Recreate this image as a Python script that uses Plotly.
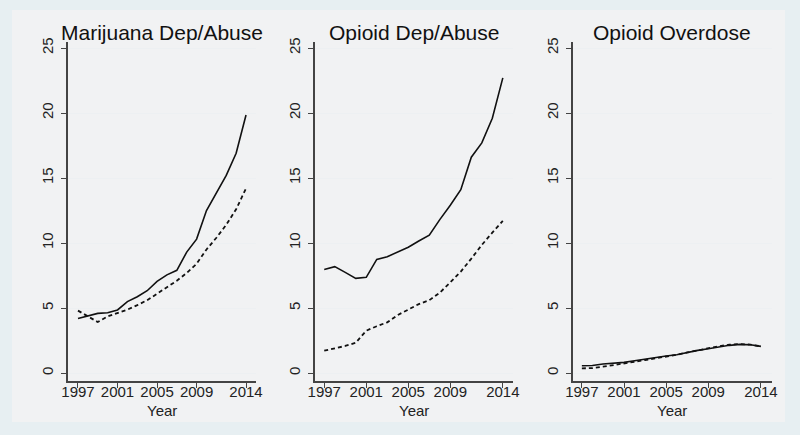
import plotly.graph_objects as go

years = list(range(1997, 2015))

titles = ["Marijuana Dep/Abuse", "Opioid Dep/Abuse", "Opioid Overdose"]

marijuana_solid = [4.2, 4.38, 4.59, 4.64, 4.85, 5.49, 5.87, 6.33, 7.05, 7.55, 7.9, 9.3, 10.3, 12.5, 13.9, 15.2, 16.9, 19.85]
marijuana_dash = [4.8, 4.35, 3.92, 4.35, 4.62, 4.88, 5.22, 5.6, 6.1, 6.6, 7.1, 7.7, 8.4, 9.5, 10.4, 11.4, 12.6, 14.2]

opioid_solid = [7.97, 8.18, 7.74, 7.28, 7.36, 8.74, 8.95, 9.3, 9.67, 10.15, 10.6, 11.8, 12.9, 14.1, 16.6, 17.7, 19.6, 22.7]
opioid_dash = [1.72, 1.9, 2.08, 2.33, 3.26, 3.6, 3.9, 4.46, 4.85, 5.3, 5.6, 6.18, 6.97, 7.8, 8.8, 9.85, 10.8, 11.7]

overdose_solid = [0.56, 0.58, 0.69, 0.75, 0.82, 0.95, 1.08, 1.2, 1.31, 1.41, 1.59, 1.74, 1.87, 2.02, 2.13, 2.2, 2.18, 2.05]
overdose_dash = [0.36, 0.38, 0.49, 0.6, 0.72, 0.86, 1.0, 1.12, 1.25, 1.4, 1.58, 1.75, 1.9, 2.06, 2.18, 2.23, 2.18, 2.05]

x_tickvals = [1997, 2001, 2005, 2009, 2014]
y_tickvals = [0, 5, 10, 15, 20, 25]
x_title = "Year"

series = [(marijuana_solid, marijuana_dash), (opioid_solid, opioid_dash), (overdose_solid, overdose_dash)]
x_domains = [[0.085, 0.32], [0.394, 0.641], [0.716, 0.965]]
x_ranges = [[1995.99, 2015.01], [1996.14, 2014.95], [1996.14, 2015.05]]
y_domain = [0.1241, 0.9034]

fig = go.Figure()
font_family = "Liberation Sans, Arial, sans-serif"

for i, (solid, dash) in enumerate(series):
    suffix = "" if i == 0 else str(i + 1)
    fig.add_trace(go.Scatter(x=years, y=solid, mode="lines",
                             line=dict(color="#111111", width=1.6),
                             xaxis="x" + suffix, yaxis="y" + suffix, showlegend=False,
                             hoverinfo="skip"))
    fig.add_trace(go.Scatter(x=years, y=dash, mode="lines",
                             line=dict(color="#111111", width=1.8, dash="4px,3px"),
                             xaxis="x" + suffix, yaxis="y" + suffix, showlegend=False,
                             hoverinfo="skip"))
    xa = dict(domain=x_domains[i], range=x_ranges[i], tickvals=x_tickvals,
              ticks="outside", ticklen=5, tickcolor="#444444", tickwidth=1,
              showline=True, linecolor="#444444", linewidth=1.5, showgrid=False,
              zeroline=False, anchor="y" + suffix, automargin=False,
              ticklabelstandoff=-9,
              tickfont=dict(family=font_family, size=15, color="#222222"))
    ya = dict(domain=y_domain, range=[-0.615, 25.46], tickvals=y_tickvals,
              ticks="outside", ticklen=5, tickcolor="#444444", tickwidth=1,
              showline=True, linecolor="#444444", linewidth=1.5,
              showgrid=True, gridcolor="#edf0f2", gridwidth=1, zeroline=False,
              tickangle=-90, anchor="x" + suffix, automargin=False,
              ticklabelstandoff=2,
              tickfont=dict(family=font_family, size=15, color="#222222"))
    fig.update_layout(**{"xaxis" + suffix: xa, "yaxis" + suffix: ya})
    cx = (x_domains[i][0] + x_domains[i][1]) / 2
    fig.add_annotation(text=titles[i], x=cx, y=1 - 32 / 435, xref="paper", yref="paper",
                       xanchor="center", yanchor="middle", showarrow=False,
                       font=dict(family=font_family, size=21, color="#111111"))
    fig.add_annotation(text=x_title, x=cx, y=1 - 400 / 435, xref="paper", yref="paper",
                       xanchor="center", yanchor="top", showarrow=False,
                       font=dict(family=font_family, size=15, color="#222222"))

fig.add_shape(type="rect", xref="paper", yref="paper",
              x0=12 / 800, x1=785 / 800, y0=1 - 422 / 435, y1=1 - 10 / 435,
              fillcolor="#f1f2f3", line=dict(width=0), layer="below")

fig.update_layout(width=800, height=435, margin=dict(l=0, r=0, t=0, b=0),
                  paper_bgcolor="#e7eff2", plot_bgcolor="#ffffff")

fig.write_html("out.html", config={"displayModeBar": False},
               post_script="document.body.style.margin='0';")
